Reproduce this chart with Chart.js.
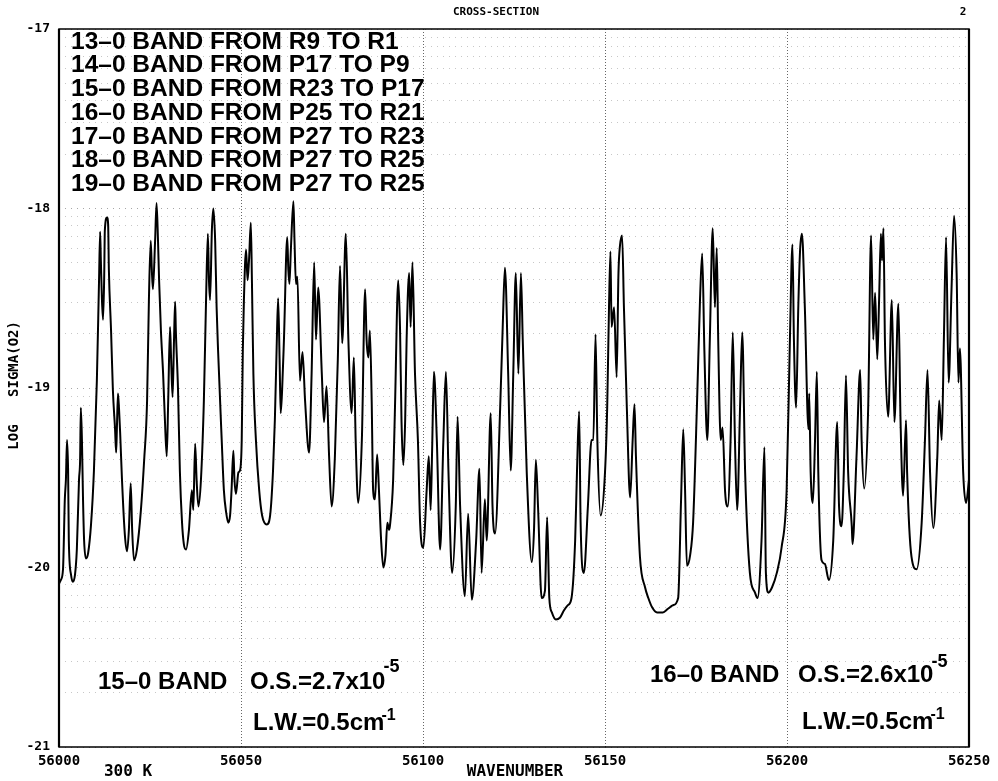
<!DOCTYPE html>
<html lang="en">
<head>
<meta charset="UTF-8">
<title>O2 Cross-Section</title>
<script src="https://cdn.jsdelivr.net/npm/chart.js@4.4.1/dist/chart.umd.min.js"></script>
<style>
  html, body { margin: 0; padding: 0; background: #fff; }
  #wrap { width: 998px; height: 781px; }
</style>
</head>
<body>
<div id="wrap"><canvas id="xsec" width="998" height="781"></canvas></div>
<script>
// wavenumber (cm-1) and log10 sigma(O2)
const wavenumber = [
  56000.0, 56000.5, 56001.1, 56001.6, 56001.9, 56002.2, 56002.5, 56002.7, 56003.3, 56003.8,
  56004.4, 56004.9, 56005.5, 56005.8, 56006.0, 56006.3, 56006.6, 56006.9, 56007.4, 56008.0,
  56008.8, 56009.6, 56010.4, 56011.0, 56011.3, 56011.5, 56011.8, 56012.1, 56012.4, 56012.6,
  56013.2, 56013.5, 56013.7, 56014.3, 56014.8, 56015.4, 56015.7, 56015.9, 56016.2, 56016.5,
  56016.8, 56017.3, 56018.1, 56018.7, 56019.2, 56019.7, 56020.1, 56020.6, 56021.4, 56022.5,
  56023.4, 56024.2, 56024.7, 56025.2, 56025.5, 56025.8, 56026.4, 56026.8, 56027.2, 56027.5,
  56028.0, 56028.6, 56029.1, 56029.6, 56030.0, 56030.5, 56030.8, 56031.2, 56031.6, 56031.9,
  56032.1, 56032.7, 56033.2, 56033.8, 56034.3, 56034.9, 56035.7, 56036.5, 56036.9, 56037.4,
  56037.8, 56038.3, 56039.0, 56039.8, 56040.4, 56040.9, 56041.2, 56041.5, 56042.0, 56042.4,
  // 56042 - 56087
  56042.9, 56043.3, 56043.7, 56044.7, 56045.3, 56045.9, 56046.5, 56047.0, 56047.4, 56047.9,
  56048.2, 56048.6, 56049.3, 56049.7, 56050.2, 56050.5, 56050.8, 56051.4, 56051.8, 56052.2,
  56052.7, 56053.0, 56053.4, 56054.1, 56055.0, 56055.8, 56057.1, 56058.0, 56058.8, 56059.3,
  56059.8, 56060.2, 56060.6, 56060.9, 56061.3, 56061.8, 56062.7, 56063.0, 56063.3, 56063.7,
  56064.4, 56064.7, 56065.1, 56065.5, 56066.2, 56066.9, 56067.6, 56068.7, 56069.4, 56070.1,
  56070.6, 56071.2, 56072.2, 56072.8, 56073.5, 56074.2, 56074.9, 56075.8, 56076.6, 56077.2,
  56077.8, 56078.8, 56079.5, 56080.4, 56081.0, 56081.5, 56082.2, 56083.2, 56084.1, 56084.5,
  56085.0, 56085.4, 56085.9, 56086.3, 56086.8,
  // 56087 - 56130
  56087.4, 56087.9, 56088.5, 56089.1, 56089.7, 56090.2, 56090.7, 56090.9, 56091.8, 56092.3,
  56093.2, 56093.7, 56094.1, 56094.6, 56095.1, 56095.5, 56096.2, 56096.6, 56097.1, 56097.8,
  56098.6, 56099.2, 56100.1, 56101.0, 56101.6, 56102.1, 56102.5, 56103.0, 56103.8, 56104.7,
  56105.6, 56106.3, 56107.0, 56108.0, 56109.0, 56109.5, 56110.2, 56111.5, 56112.4, 56113.4,
  56114.6, 56115.5, 56116.1, 56117.0, 56117.5, 56118.6, 56119.1, 56119.8, 56121.2, 56121.9,
  56122.5, 56123.4, 56124.1, 56124.8, 56125.5, 56126.2, 56126.9, 56127.4, 56128.5, 56129.9,
  // 56130 - 56177
  56130.5, 56131.0, 56131.6, 56132.6, 56133.5, 56134.1, 56134.7, 56135.4, 56136.5, 56137.6,
  56138.7, 56139.8, 56140.8, 56141.8, 56142.3, 56142.9, 56143.3, 56144.2, 56145.3, 56146.3,
  56146.8, 56147.4, 56147.9, 56148.8, 56150.0, 56150.6, 56151.1, 56151.5, 56151.8, 56152.5,
  56153.2, 56153.7, 56154.1, 56154.7, 56155.2, 56156.0, 56156.9, 56157.6, 56158.1, 56158.5,
  56159.6, 56161.0, 56161.9, 56162.9, 56164.3, 56165.9, 56167.3, 56168.7, 56170.1, 56170.9,
  56171.5, 56172.0, 56172.5, 56173.4, 56174.2, 56175.3, 56176.1, 56176.7,
  // 56177 - 56218
  56177.3, 56178.1, 56178.8, 56179.6, 56180.2, 56180.7, 56181.1, 56181.8, 56182.3, 56183.0,
  56183.7, 56184.5, 56185.1, 56185.7, 56186.3, 56187.1, 56187.7, 56188.5, 56189.8, 56191.2,
  56191.9, 56193.0, 56193.8, 56194.2, 56194.9, 56195.9, 56197.2, 56198.5, 56199.9, 56200.8,
  56201.5, 56201.9, 56202.5, 56203.1, 56203.6, 56204.1, 56204.9, 56205.9, 56206.1, 56206.5,
  56207.1, 56207.7, 56208.2, 56208.6, 56209.5, 56210.4, 56211.5, 56212.7, 56213.8, 56214.3,
  56215.0, 56215.6, 56216.2, 56216.8, 56217.8,
  // 56218 - 56250
  56218.0, 56219.1, 56220.1, 56220.5, 56221.2, 56222.3, 56223.1, 56223.7, 56224.2, 56224.8,
  56225.3, 56225.8, 56226.1, 56226.5, 56226.9, 56227.8, 56228.8, 56229.5, 56230.6, 56231.2,
  56231.9, 56232.7, 56233.0, 56234.2, 56235.6, 56237.0, 56237.9, 56238.6, 56239.3, 56240.2,
  56241.3, 56241.8, 56242.5, 56243.1, 56243.7, 56244.4, 56245.2, 56245.9, 56246.6, 56247.1,
  56247.5, 56248.4, 56249.2, 56250.0
];

const logSigma = [
  -20.09, -20.07, -20.01, -19.62, -19.51, -19.29, -19.46, -19.85, -20.04, -20.08,
  -20.04, -19.90, -19.51, -19.40, -19.11, -19.29, -19.62, -19.85, -19.95, -19.92,
  -19.76, -19.46, -18.96, -18.40, -18.13, -18.29, -18.51, -18.62, -18.40, -18.12,
  -18.05, -18.09, -18.34, -18.68, -19.01, -19.23, -19.36, -19.23, -19.03, -19.12,
  -19.25, -19.51, -19.82, -19.91, -19.79, -19.53, -19.79, -19.96, -19.90, -19.68,
  -19.40, -19.07, -18.51, -18.18, -18.34, -18.45, -18.18, -17.97, -18.18, -18.40,
  -18.68, -18.92, -19.18, -19.38, -19.07, -18.66, -18.84, -19.05, -18.73, -18.52,
  -18.68, -19.01, -19.46, -19.75, -19.87, -19.90, -19.79, -19.57, -19.68, -19.31,
  -19.51, -19.66, -19.51, -19.07, -18.51, -18.14, -18.40, -18.51, -18.12, -18.00,
  // 56042 - 56087
  -18.18, -18.55, -18.79, -19.29, -19.57, -19.69, -19.75, -19.71, -19.57, -19.35,
  -19.51, -19.59, -19.47, -19.46, -19.29, -18.79, -18.51, -18.23, -18.40, -18.29,
  -18.08, -18.40, -18.92, -19.29, -19.57, -19.71, -19.76, -19.71, -19.46, -19.18,
  -18.77, -18.50, -18.84, -19.14, -19.01, -18.73, -18.16, -18.34, -18.42, -18.23,
  -17.96, -18.18, -18.42, -18.38, -18.96, -18.80, -19.07, -19.36, -18.92, -18.30,
  -18.73, -18.44, -18.92, -19.19, -18.99, -19.38, -19.66, -19.38, -18.84, -18.32,
  -18.75, -18.14, -18.73, -19.14, -18.83, -19.29, -19.64, -19.29, -18.45, -18.73,
  -18.83, -18.68, -19.07, -19.57, -19.62,
  // 56087 - 56130
  -19.37, -19.57, -19.85, -20.00, -19.93, -19.75, -19.79, -19.77, -19.51, -19.11,
  -18.40, -18.68, -19.19, -19.43, -19.18, -18.73, -18.36, -18.66, -18.30, -18.92,
  -19.29, -19.75, -19.89, -19.57, -19.38, -19.68, -19.35, -18.91, -19.29, -19.90,
  -19.29, -18.91, -19.47, -20.03, -19.66, -19.16, -19.66, -20.16, -19.70, -20.18,
  -19.85, -19.45, -20.03, -19.62, -19.85, -19.14, -19.66, -19.81, -19.11, -18.66,
  -18.33, -18.92, -19.46, -18.92, -18.36, -18.92, -18.36, -18.73, -19.47, -19.97,
  // 56130 - 56177
  -19.79, -19.40, -19.66, -20.17, -20.13, -19.72, -20.17, -20.25, -20.29, -20.28,
  -20.24, -20.21, -20.17, -19.85, -19.47, -19.13, -19.75, -20.03, -19.66, -19.29,
  -19.29, -18.70, -19.29, -19.71, -19.47, -19.11, -18.55, -18.24, -18.66, -18.55,
  -18.94, -18.36, -18.21, -18.15, -18.55, -19.11, -19.61, -19.29, -19.09, -19.38,
  -19.94, -20.11, -20.17, -20.22, -20.25, -20.25, -20.23, -20.21, -20.17, -19.62,
  -19.23, -19.57, -19.99, -19.93, -19.75, -19.07, -18.51, -18.25,
  // 56177 - 56218
  -18.79, -19.29, -18.73, -18.11, -18.55, -18.22, -18.73, -19.29, -19.22, -19.58,
  -19.66, -19.29, -18.69, -19.29, -19.68, -19.11, -18.69, -19.47, -20.03, -20.14,
  -20.17, -19.85, -19.33, -20.03, -20.14, -20.11, -20.03, -19.89, -19.57, -18.73,
  -18.20, -18.73, -19.11, -18.55, -18.23, -18.14, -18.55, -19.23, -19.03, -19.47,
  -19.64, -19.29, -18.91, -19.47, -19.96, -19.98, -20.07, -19.85, -19.19, -19.66,
  -19.77, -19.47, -18.93, -19.47, -19.77,
  // 56218 - 56250
  -19.87, -19.38, -18.90, -19.29, -19.56, -19.11, -18.15, -18.73, -18.47, -18.84,
  -18.51, -18.14, -18.29, -18.11, -18.73, -19.16, -18.51, -19.19, -18.53, -19.19,
  -19.60, -19.18, -19.47, -19.94, -20.01, -19.75, -19.29, -18.90, -19.47, -19.78,
  -19.38, -19.07, -19.29, -18.73, -18.16, -18.97, -18.45, -18.04, -18.36, -18.97,
  -18.78, -19.47, -19.64, -19.51
];

const xTicks = [56000, 56050, 56100, 56150, 56200, 56250];
const yTicks = [-21, -20, -19, -18, -17];

const bandLines = [
  '13–0 BAND FROM R9 TO R1',
  '14–0 BAND FROM P17 TO P9',
  '15–0 BAND FROM R23 TO P17',
  '16–0 BAND FROM P25 TO R21',
  '17–0 BAND FROM P27 TO R23',
  '18–0 BAND FROM P27 TO R25',
  '19–0 BAND FROM P27 TO R25'
];

// log-decade grid: integer lines plus 2..9 inside each decade
const yGrid = [];
yTicks.forEach(v => {
  yGrid.push(v);
  if (v < -17) {
    for (let k = 2; k <= 9; k++) yGrid.push(v + Math.log10(k));
  }
});

const SANS = '"Liberation Sans", Arial, sans-serif';
const MONO = '"DejaVu Sans Mono", monospace';

function withSup(ctx, base, sup, x, y, dx, dy, supSize) {
  ctx.font = 'bold 24px ' + SANS;
  ctx.fillText(base, x, y);
  const w = ctx.measureText(base).width;
  ctx.font = 'bold ' + supSize + 'px ' + SANS;
  ctx.fillText(sup, x + w + dx, y + dy);
}

const textLayer = {
  id: 'textLayer',
  afterDraw(chart) {
    const { ctx, chartArea: a } = chart;
    ctx.save();

    // frame
    ctx.strokeStyle = '#000';
    ctx.lineWidth = 1.5;
    ctx.strokeRect(a.left, a.top, a.right - a.left, a.bottom - a.top);
    ctx.lineWidth = 2.2;
    ctx.beginPath();
    ctx.moveTo(a.left, a.top); ctx.lineTo(a.left, a.bottom);
    ctx.moveTo(a.right, a.top); ctx.lineTo(a.right, a.bottom);
    ctx.stroke();

    ctx.fillStyle = '#000';
    ctx.textBaseline = 'middle';
    ctx.textAlign = 'center';

    ctx.font = 'bold 11px ' + MONO;
    ctx.fillText('CROSS-SECTION', 496, 12);
    ctx.fillText('2', 963, 12);

    ctx.font = 'bold 16px ' + MONO;
    ctx.fillText('WAVENUMBER', 515, 772);
    ctx.fillText('300 K', 128, 772);

    ctx.save();
    ctx.translate(14, 0);
    ctx.rotate(-Math.PI / 2);
    ctx.font = 'bold 14px ' + MONO;
    ctx.fillText('LOG', -437, 0);
    ctx.fillText('SIGMA(O2)', -359, 0);
    ctx.restore();

    ctx.textAlign = 'left';
    ctx.font = 'bold 24.5px ' + SANS;
    bandLines.forEach((t, i) => ctx.fillText(t, 71, 42 + i * 23.7));

    ctx.font = 'bold 24px ' + SANS;
    ctx.fillText('15–0 BAND', 98, 682);
    withSup(ctx, 'O.S.=2.7x10', '-5', 250, 682, -2, -15, 18);
    withSup(ctx, 'L.W.=0.5cm', '-1', 253, 723, -3, -7, 16);

    ctx.font = 'bold 24px ' + SANS;
    ctx.fillText('16–0 BAND', 650, 675);
    withSup(ctx, 'O.S.=2.6x10', '-5', 798, 675, -2, -13, 18);
    withSup(ctx, 'L.W.=0.5cm', '-1', 802, 722, -3, -7, 16);

    ctx.restore();
  }
};

new Chart(document.getElementById('xsec'), {
  type: 'line',
  data: {
    datasets: [{
      data: wavenumber.map((x, i) => ({ x: x, y: logSigma[i] })),
      borderColor: '#000',
      borderWidth: 2,
      pointRadius: 0,
      fill: false,
      cubicInterpolationMode: 'monotone'
    }]
  },
  options: {
    responsive: false,
    animation: false,
    layout: { padding: { top: 29, right: 29, bottom: 0, left: 0 } },
    plugins: {
      legend: { display: false },
      tooltip: { enabled: false }
    },
    scales: {
      x: {
        type: 'linear',
        min: 56000,
        max: 56250,
        afterBuildTicks: s => { s.ticks = xTicks.map(v => ({ value: v })); },
        afterFit: s => { s.height = 34; },
        ticks: {
          autoSkip: false,
          maxRotation: 0,
          padding: 6,
          color: '#000',
          font: { family: 'DejaVu Sans Mono', weight: 'bold', size: 14 },
          callback: v => String(v)
        },
        grid: { color: 'rgba(0,0,0,0.6)', lineWidth: 1, drawTicks: false },
        border: { display: false, dash: [1, 2] }
      },
      y: {
        type: 'linear',
        min: -21,
        max: -17,
        afterBuildTicks: s => { s.ticks = yGrid.map(v => ({ value: v })); },
        afterFit: s => { s.width = 59; },
        ticks: {
          autoSkip: false,
          padding: 9,
          color: '#000',
          font: { family: 'DejaVu Sans Mono', weight: 'bold', size: 13 },
          callback: v => Number.isInteger(v) ? String(v) : ''
        },
        grid: {
          color: c => Number.isInteger(c.tick.value) ? 'rgba(0,0,0,0.35)' : 'rgba(0,0,0,0.22)',
          lineWidth: 1,
          drawTicks: false
        },
        border: { display: false, dash: [1, 5] }
      }
    }
  },
  plugins: [textLayer]
});
</script>
</body>
</html>
